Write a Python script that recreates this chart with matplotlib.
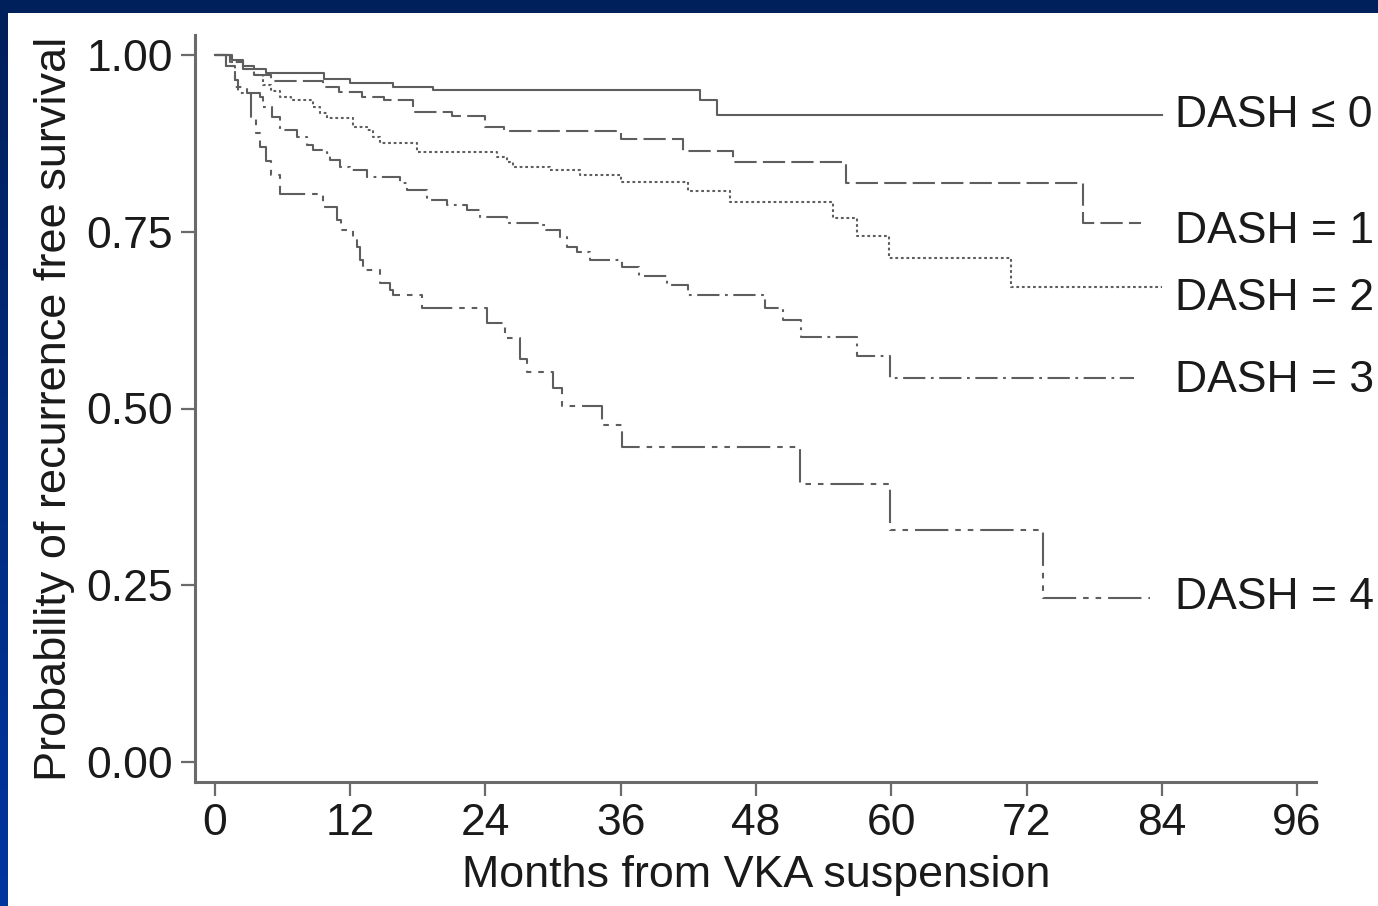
import matplotlib
matplotlib.use("Agg")
import matplotlib.pyplot as plt
import numpy as np

plt.rcParams['font.family'] = ['Liberation Sans', 'DejaVu Sans']
plt.rcParams['lines.scale_dashes'] = False

# Kaplan-Meier step data (months, survival)
t0 = [0, 1.5, 2.5, 3.5, 4.5, 9.7, 12, 15.8, 19.3, 43.0, 44.5, 84]
s0 = [1.0, 0.993, 0.985, 0.98, 0.975, 0.966, 0.961, 0.955, 0.951, 0.936, 0.915, 0.915]

t1 = [0, 1.3, 2.5, 3.5, 5, 9.6, 11, 13, 15, 17.6, 21, 24, 25.6, 36, 41.5, 46, 56, 77, 82.2]
s1 = [1.0, 0.99, 0.98, 0.972, 0.963, 0.955, 0.948, 0.941, 0.936, 0.919, 0.914, 0.898,
      0.892, 0.881, 0.864, 0.849, 0.819, 0.762, 0.762]

t2 = [0, 1.3, 2.5, 3.5, 4.3, 5, 5.8, 6.7, 8.7, 9.3, 9.9, 12.2, 13.5, 14, 14.6, 17.9, 25,
      25.9, 26.4, 29.7, 32.4, 36, 42, 45.7, 54.8, 57, 59.8, 70.6, 84]
s2 = [1.0, 0.99, 0.98, 0.972, 0.957, 0.949, 0.941, 0.936, 0.926, 0.918, 0.911, 0.898,
      0.894, 0.884, 0.876, 0.863, 0.856, 0.849, 0.842, 0.837, 0.830, 0.820, 0.808, 0.792,
      0.769, 0.744, 0.713, 0.672, 0.672]

t3 = [0, 1, 1.8, 2, 4, 4.3, 5.1, 5.8, 7.3, 8.2, 8.7, 9.9, 10.2, 11.1, 12, 13.5, 16.4, 17,
      18.8, 20.6, 22.4, 23.5, 25.9, 28.8, 29.4, 30.6, 31.2, 32.1, 33.3, 36.1, 37.6, 40.1,
      42, 48.8, 50.4, 52, 57, 59.9, 81.5]
s3 = [1.0, 0.985, 0.965, 0.946, 0.941, 0.926, 0.912, 0.894, 0.884, 0.873, 0.866, 0.861,
      0.851, 0.842, 0.837, 0.827, 0.819, 0.809, 0.795, 0.788, 0.781, 0.771, 0.762, 0.760,
      0.752, 0.743, 0.728, 0.721, 0.710, 0.700, 0.687, 0.675, 0.661, 0.642, 0.625, 0.601,
      0.574, 0.543, 0.543]

t4 = [0, 1, 1.8, 2.8, 3.2, 3.6, 4, 4.5, 5, 5.8, 9.6, 10.8, 11.2, 12.2, 12.6, 12.9, 13.1,
      14.6, 15.5, 15.8, 18.4, 24.1, 25.7, 27.1, 27.7, 30, 30.8, 34.3, 36.1, 51.9, 59.9,
      73.5, 83]
s4 = [1.0, 0.985, 0.955, 0.946, 0.911, 0.89, 0.87, 0.85, 0.83, 0.804, 0.785, 0.767, 0.752,
      0.743, 0.728, 0.71, 0.696, 0.678, 0.668, 0.661, 0.642, 0.621, 0.6, 0.57, 0.552,
      0.529, 0.503, 0.477, 0.445, 0.393, 0.328, 0.232, 0.232]

labels = ["DASH \u2264 0", "DASH = 1", "DASH = 2", "DASH = 3", "DASH = 4"]
label_y = [0.914, 0.751, 0.655, 0.540, 0.232]
styles = ['-', (0, (16, 4.5)), (0, (2, 2)), (0, (16, 4, 2, 4)), (0, (24, 5, 4, 5, 4, 5))]

xticks = [0, 12, 24, 36, 48, 60, 72, 84, 96]
yticks = [0.0, 0.25, 0.5, 0.75, 1.0]

W, H = 1378, 906
fig = plt.figure(figsize=(W / 100, H / 100), dpi=100)
fig.patch.set_facecolor('#00205b')

# white panel inside the navy frame
bg = fig.add_axes([8 / W, 0, 1 - 8 / W, 1 - 13 / H])
bg.set_facecolor('white')
bg.set_xticks([])
bg.set_yticks([])
for sp in bg.spines.values():
    sp.set_visible(False)

# left strip: navy fading to brighter blue
strip = fig.add_axes([0, 0, 8 / W, 1 - 13 / H])
grad = np.linspace(0, 1, 256).reshape(-1, 1)
strip.imshow(grad, aspect='auto', cmap=matplotlib.colors.LinearSegmentedColormap.from_list(
    'b', ['#0035a0', '#00205b']), origin='lower')
strip.axis('off')

ax = fig.add_axes([195 / W, 1 - 782 / H, (1316 - 195) / W, (782 - 35) / H])
ax.set_facecolor('none')

line_col = '#5e5e5e'
for t, s, ls in zip([t0, t1, t2, t3, t4], [s0, s1, s2, s3, s4], styles):
    ax.step(t, s, where='post', color=line_col, lw=1.5, linestyle=ls)
for lab, y in zip(labels, label_y):
    ax.text(85.2, y, lab, fontsize=32, va='center', ha='left', color='#1a1a1a',
            clip_on=False)

ax.set_xlim(-20 / 11.271, 96 + 19 / 11.271)
ax.set_ylim(-20 / 707, 1 + 20 / 707)
ax.set_xticks(xticks)
ax.set_yticks(yticks)
ax.set_yticklabels([f"{v:.2f}" for v in yticks])
ax.tick_params(axis='both', length=10, width=1.6, color='#6a6a6a', labelsize=32,
               labelcolor='#1a1a1a')
ax.tick_params(axis='y', pad=6)
ax.tick_params(axis='x', pad=5)
for side in ['top', 'right']:
    ax.spines[side].set_visible(False)
for side in ['left', 'bottom']:
    ax.spines[side].set_color('#6a6a6a')
    ax.spines[side].set_linewidth(2.2)

fig.text(55 / W, 1 - 409 / H, "Probability of recurrence free survival", rotation=90,
         fontsize=32.5, ha='center', va='center', color='#1a1a1a')
fig.text(756 / W, 1 - 875 / H, "Months from VKA suspension", fontsize=32.3,
         ha='center', va='center', color='#1a1a1a')

fig.savefig('out.png', dpi=100, facecolor=fig.get_facecolor())
